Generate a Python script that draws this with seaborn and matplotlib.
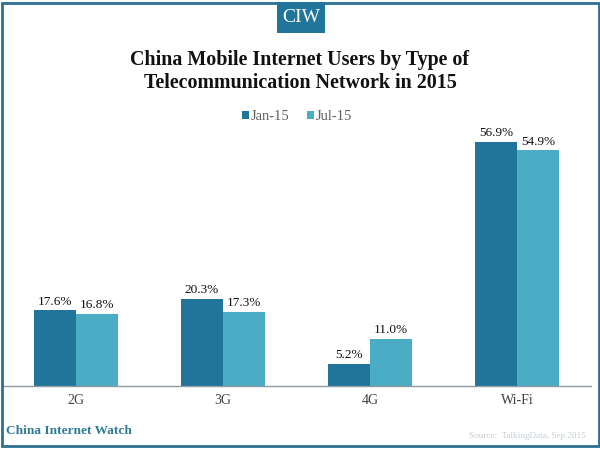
import matplotlib
matplotlib.use("Agg")
import matplotlib.pyplot as plt
from matplotlib.patches import Rectangle
import pandas as pd
import seaborn as sns

categories = ["2G", "3G", "4G", "Wi-Fi"]
jan_15 = [17.6, 20.3, 5.2, 56.9]
jul_15 = [16.8, 17.3, 11.0, 54.9]
series_names = ["Jan-15", "Jul-15"]
colors = ["#21759B", "#4BACC6"]
title = "China Mobile Internet Users by Type of\nTelecommunication Network in 2015"

sns.set_theme(style="white")
plt.rcParams["font.family"] = ["Liberation Serif", "DejaVu Serif"]

df = pd.DataFrame({
    "cat": categories * 2,
    "val": jan_15 + jul_15,
    "series": [series_names[0]] * 4 + [series_names[1]] * 4,
})

W, H = 600, 450
fig = plt.figure(figsize=(W / 100, H / 100), dpi=100, facecolor="white")
ax = fig.add_axes([2.5 / W, 1 - 386 / H, 588 / W, 290 / H])
sns.barplot(data=df, x="cat", y="val", hue="series", palette=colors,
            width=0.5714, gap=0, saturation=1, ax=ax, legend=True, linewidth=0)
ax.set_ylim(0, 290 / 4.29)
ax.set_xlim(-0.5, 3.5)
ax.set_xlabel("")
ax.set_ylabel("")
ax.set_yticks([])
for s in ["top", "left", "right"]:
    ax.spines[s].set_visible(False)
ax.spines["bottom"].set_color("#8C9AA3")
ax.spines["bottom"].set_linewidth(1)
ax.tick_params(axis="x", length=0, pad=6, labelsize=10, colors="#404040")
for c in ax.containers:
    ax.bar_label(c, fmt="%.1f%%", fontsize=9.5, color="#111111", padding=2)

ax.legend(*ax.get_legend_handles_labels(), loc="center", ncol=2, frameon=False,
          bbox_to_anchor=(297 / W, 1 - 116.5 / H), bbox_transform=fig.transFigure,
          fontsize=10.5, labelcolor="#606060", handlelength=0.45, handleheight=0.5,
          handletextpad=0.12, columnspacing=1.2)

fig.text(0.5, 1 - 71.5 / H, title, ha="center", va="center", fontsize=14.4,
         fontweight="bold", color="#111111", linespacing=1.2)

# page frame and logo
fig.add_artist(Rectangle((1.5 / W, 1 - 446 / H), 597 / W, 443 / H, transform=fig.transFigure,
                         fill=False, edgecolor="#2B6F93", linewidth=2))
fig.add_artist(Rectangle((277 / W, 1 - 33 / H), 48 / W, 31 / H, transform=fig.transFigure,
                         facecolor="#21759B", edgecolor="none"))
fig.text(301 / W, 1 - 17 / H, "CIW", ha="center", va="center", fontsize=14, color="white")
fig.text(6 / W, 1 - 431 / H, "China Internet Watch", ha="left", va="center", fontsize=9.6,
         fontweight="bold", color="#2F7C99")
fig.text(586 / W, 1 - 436 / H, "Source:  TalkingData, Sep 2015", ha="right", va="center",
         fontsize=6.6, color="#C4CDD2")

fig.savefig("out.png", dpi=100)
